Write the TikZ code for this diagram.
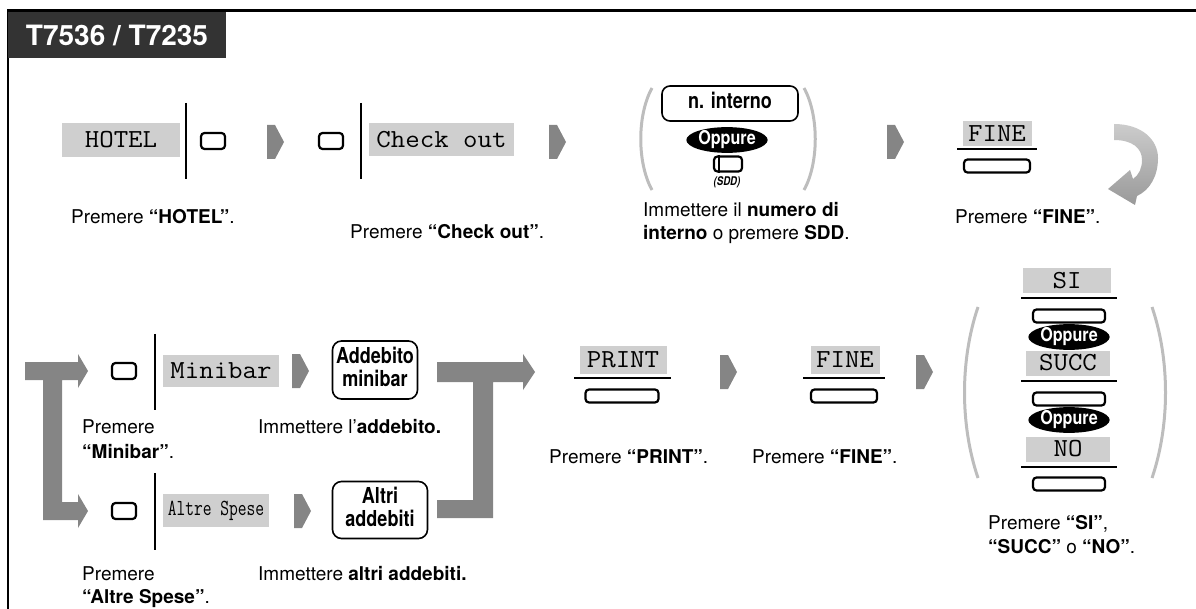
\documentclass[tikz,border=0pt]{standalone}
\usepackage{fontspec}
\setmainfont{TeX Gyre Heros}
\setsansfont{TeX Gyre Heros}
\usepackage{graphicx}
\usetikzlibrary{shapes.geometric,calc}
\definecolor{keygray}{HTML}{CFCFCF}
\definecolor{arrgray}{HTML}{858585}
\definecolor{pargray}{HTML}{BDBDBD}
\definecolor{titlegray}{HTML}{333333}
\newcommand{\mtxt}[1]{\scalebox{1.08}[1]{\fontsize{26}{26}\selectfont\ttfamily #1}}
\newcommand{\mtxtn}[1]{\scalebox{0.74}[1]{\fontsize{23}{23}\selectfont\ttfamily #1}}
\newcommand{\cb}[1]{\scalebox{0.82}[1]{\fontsize{22}{22}\selectfont\bfseries\begin{tabular}{@{}c@{}}#1\end{tabular}}}
\newcommand{\opp}{\scalebox{0.85}[1]{Oppure}}
\tikzset{
  softkey/.style={fill=keygray, inner sep=0pt, minimum height=25pt},
  btn/.style={draw, line width=2.2pt, rounded corners=3.5pt, minimum width=24pt, minimum height=16pt, inner sep=0pt, fill=white},
  wbtn/.style={btn, minimum width=66pt, minimum height=13pt},
  garrow/.pic={\fill[arrgray] (-8,-17) -- (0,-17) -- (9,0) -- (0,17) -- (-8,17) -- cycle;},
  captxt/.style={anchor=base west, inner sep=0pt, font=\fontsize{19}{24}\selectfont},
  vline/.style={line width=2pt},
  sepline/.style={line width=1.4pt},
  keybox/.style={draw, line width=1.6pt, rounded corners=8pt, inner sep=2pt},
  oppure/.style={ellipse, fill=black, text=white, inner sep=0pt, minimum width=62pt, minimum height=21pt, font=\fontsize{19}{19}\selectfont\bfseries},
  paren/.style={pargray, line width=3pt},
  bigarrow/.style={fill=arrgray}
}
\begin{document}
\begin{tikzpicture}[x=1pt,y=-1pt]
\useasboundingbox (0,0) rectangle (1196,609);
% frame and title
\draw[line width=2.6pt] (8,609) -- (8,10.5) -- (1196,10.5);
\fill[titlegray] (8,12) rectangle (226,58);
\node[text=white, font=\fontsize{28}{28}\selectfont\bfseries] (title) at (117,35.5) {T7536 / T7235};

% ---------- row 1 ----------
\node[softkey, minimum width=118pt, minimum height=34pt] (hotel) at (121,140) {\mtxt{HOTEL}};
\draw[vline] (186,103) -- (186,179);
\node[btn] (b1) at (213,141) {};
\pic (a1) at (275,142) {garrow};
\node[btn] (b2) at (331,141) {};
\draw[vline] (361,103) -- (361,179);
\node[softkey, minimum width=145pt, minimum height=33pt] (chk) at (441.5,139.5) {\mtxt{Check out}};
\pic (a2) at (557,142) {garrow};

\draw[paren] (652,88) .. controls (637,115) and (637,163) .. (652,190);
\node[keybox, minimum width=136pt, minimum height=35pt] (nint) at (730,103.5) {\cb{n. interno}};
\node[oppure] (opp1) at (727,140) {\opp};
\node[btn, minimum width=28pt, minimum height=15pt] (sdd) at (728,164) {};
\draw[line width=2pt] ($(sdd.north west)+(6.5,0)$) -- ($(sdd.south west)+(6.5,0)$);
\node[font=\fontsize{12}{12}\selectfont\bfseries\itshape] (sddl) at (727,182) {\scalebox{0.8}[1]{(SDD)}};
\draw[paren] (804,88) .. controls (819,115) and (819,163) .. (804,190);
\pic (a3) at (895,142) {garrow};

\node[softkey, minimum width=69pt] (fine1) at (997,134) {\mtxt{FINE}};
\draw[sepline] (957,149) -- (1037,149);
\node[wbtn] (fb1) at (997,166) {};

\shade[top color=gray!40, bottom color=gray!80] (1114,124) .. controls (1142,124) and (1158,140) .. (1158,158) .. controls (1158,176) and (1150,190) .. (1137,196) -- (1135,205) -- (1108,189) -- (1130,170) -- (1133,179) .. controls (1139,175) and (1142,168) .. (1142,160) .. controls (1142,148) and (1132,140) .. (1114,140) -- cycle;

\node[captxt] (c1) at (71,224) {Premere \textbf{“HOTEL”}.};
\node[captxt] (c2) at (350,239) {Premere \textbf{“Check out”}.};
\node[captxt] (c3a) at (643,217) {Immettere il \textbf{numero di}};
\node[captxt] (c3b) at (643,240) {\textbf{interno} o premere \textbf{SDD}.};
\node[captxt] (c4) at (955,224) {Premere \textbf{“FINE”}.};

% ---------- row 2 ----------
\fill[bigarrow] (25,362) -- (78,362) -- (78,354) -- (88,371) -- (78,388) -- (78,380) -- (62,380) -- (62,502) -- (78,502) -- (78,494) -- (88,511) -- (78,528) -- (78,520) -- (43,520) -- (43,380) -- (25,380) -- cycle;

\node[btn] (b3) at (124,371) {};
\draw[vline] (155,334) -- (155,410);
\node[softkey, minimum width=116pt, minimum height=32pt] (mini) at (221,371) {\mtxt{Minibar}};
\pic (a4) at (300,371) {garrow};
\node[keybox, minimum width=85pt, minimum height=58pt, rounded corners=9pt] (addm) at (375,370) {\cb{Addebito\\minibar}};

\node[btn] (b4) at (124,511) {};
\draw[vline] (155,473) -- (155,550);
\node[softkey, minimum width=106pt, minimum height=33pt] (altre) at (216,510.5) {\mtxtn{Altre Spese}};
\pic (a5) at (302,511) {garrow};
\node[keybox, minimum width=95pt, minimum height=57pt, rounded corners=9pt] (alt) at (380,510) {\cb{Altri\\addebiti}};

\fill[bigarrow] (437,362) -- (523,362) -- (523,354) -- (535,372) -- (523,390) -- (523,382) -- (493,382) -- (493,518) -- (437,518) -- (437,500) -- (473,500) -- (473,382) -- (437,382) -- cycle;

\node[captxt] (c5a) at (82,433) {Premere};
\node[captxt] (c5b) at (82,458) {\textbf{“Minibar”}.};
\node[captxt] (c6) at (258,433) {Immettere l'\textbf{addebito.}};
\node[captxt] (c7a) at (82,580) {Premere};
\node[captxt] (c7b) at (82,603) {\textbf{“Altre Spese”}.};
\node[captxt] (c8) at (258,580) {Immettere \textbf{altri addebiti.}};

\node[softkey, minimum width=87pt, minimum height=27pt] (print) at (623,360) {\mtxt{PRINT}};
\draw[sepline] (574,378) -- (671,378);
\node[wbtn, minimum width=73pt] (pb) at (622,396) {};
\pic (a6) at (728,372) {garrow};

\node[softkey, minimum width=69pt, minimum height=27pt] (fine2) at (845,360) {\mtxt{FINE}};
\draw[sepline] (803,378) -- (885,378);
\node[wbtn] (fb2) at (844,396) {};
\pic (a7) at (924,372) {garrow};

\node[captxt] (c9) at (549,463) {Premere \textbf{“PRINT”}.};
\node[captxt] (c10) at (752,463) {Premere \textbf{“FINE”}.};

\draw[paren] (978,307) .. controls (960,360) and (960,425) .. (978,478);
\draw[paren] (1152,307) .. controls (1170,360) and (1170,425) .. (1152,478);

\node[softkey, minimum width=88pt] (si) at (1067,281) {\mtxt{SI}};
\draw[sepline] (1021,298) -- (1117,298);
\node[wbtn, minimum width=72pt] (sib) at (1069,316) {};
\node[oppure] (opp2) at (1069,337) {\opp};
\node[softkey, minimum width=84pt] (succ) at (1068,363) {\mtxt{SUCC}};
\draw[sepline] (1021,381) -- (1117,381);
\node[wbtn, minimum width=72pt] (succb) at (1069,399) {};
\node[oppure] (opp3) at (1069,420) {\opp};
\node[softkey, minimum width=84pt] (no) at (1068,449) {\mtxt{NO}};
\draw[sepline] (1021,467) -- (1117,467);
\node[wbtn, minimum width=72pt] (nob) at (1069,484) {};

\node[captxt] (c11a) at (988,529) {Premere \textbf{“SI”},};
\node[captxt] (c11b) at (988,553) {\textbf{“SUCC”} o \textbf{“NO”}.};
\end{tikzpicture}
\end{document}
